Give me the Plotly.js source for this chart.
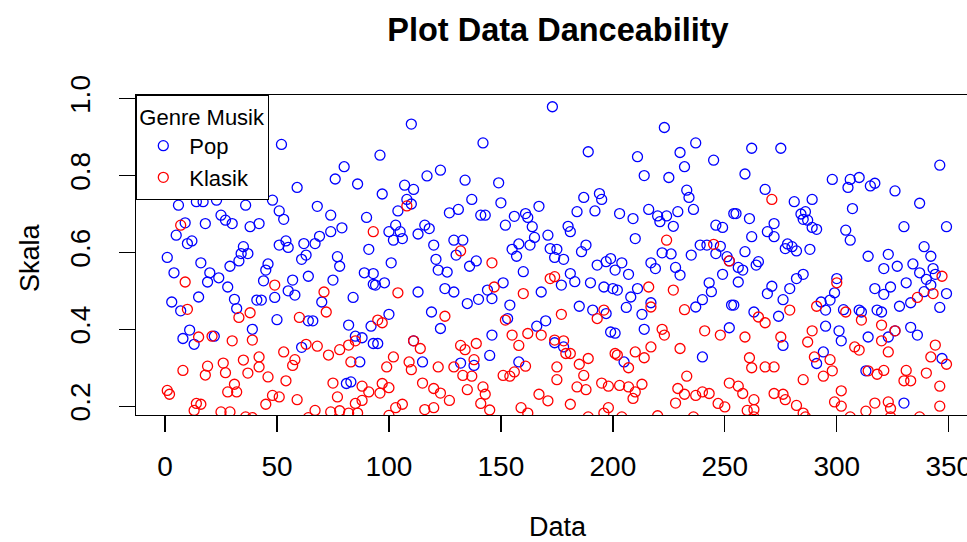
<!DOCTYPE html>
<html>
<head>
<meta charset="utf-8">
<script src="https://cdn.plot.ly/plotly-3.0.1.min.js"></script>
<style>
html,body{margin:0;padding:0;overflow:hidden;background:#fff;}
#chart{width:1000px;height:542px;}
</style>
</head>
<body>
<div id="chart"></div>
<script>
// Pop (blue) : index, danceability
const popX = [1,3,4,5,6,7,8,9,10,11,12,13,14,15,16,17,18,19,20,22,23,24,25,27,28,29,30,31,32,33,34,35,36,37,38,39,
41,42,43,44,45,46,48,49,50,52,51,53,51,54,55,55,59,58,57,62,63,61,61,64,64,66,67,68,69,70,74,74,75,76,77,78,79,80,81,82,83,84,85,86,87,88,89,90,91,92,93,93,93,
110,142,96,123,117,134,107,111,97,137,108,110,104,127,131,141,143,100,103,105,102,106,113,116,118,120,129,133,130,121,122,126,136,139,101,125,129,98,94,113,135,140,144,146,100,119,123,95,146,111,115,132,138,145,
173,189,149,150,187,194,195,167,184,192,156,161,162,152,164,180,181,165,171,158,155,157,163,172,175,174,178,188,186,193,197,199,160,181,183,177,168,190,196,200,151,154,153,170,166,185,191,197,199,158,174,178,
223,237,211,230,245,232,214,225,233,234,203,209,216,220,221,224,229,236,227,246,249,254,210,222,226,235,239,242,246,248,251,252,204,201,217,219,228,230,207,249,211,208,206,202,243,244,240,237,217,213,253,214,201,252,240,205,
262,275,259,298,305,306,268,281,289,255,261,284,286,287,285,307,272,269,272,289,291,304,306,262,278,280,282,277,288,259,265,264,256,258,256,285,282,300,271,269,279,276,299,297,293,295,254,263,274,303,295,301,302,276,294,291,
346,310,315,317,326,337,330,349,314,323,339,342,321,327,334,337,343,344,340,342,331,339,317,321,324,349,333,328,346,310,311,318,320,333,336,326,323,314,347,313,330];
const popY = [.587,.471,.547,.645,.723,.448,.376,.677,.623,.398,.630,.361,.732,.484,.573,.732,.675,.523,.547,.382,.736,.534,.697,.684,.51,.564,.675,.478,.454,.578,.597,.615,.723,.597,.667,.40,
.476,.675,.476,.526,.554,.570,.736,.483,.425,.881,.708,.686,.619,.630,.613,.500,.769,.489,.528,.623,.593,.582,.353,.538,.422,.422,.623,.720,.642,.471,.697,.654,.528,.791,.589,.564,.664,.823,.259,.411,.263,.483,.382,.778,.315,.378,.547,.691,.608,.408,.545,.517,.363,
.934,.885,.853,.814,.799,.788,.775,.764,.752,.738,.738,.726,.708,.703,.712,.697,.697,.654,.671,.654,.632,.636,.648,.671,.662,.619,.632,.632,.593,.582,.554,.549,.564,.578,.573,.506,.497,.521,.515,.497,.467,.478,.502,.48,.439,.445,.402,.363,.385,.37,.315,.312,.306,.332,
.979,.862,.781,.729,.743,.753,.738,.72,.706,.708,.694,.701,.691,.671,.667,.668,.654,.639,.645,.622,.608,.590,.619,.61,.608,.587,.582,.619,.602,.567,.576,.584,.55,.545,.524,.515,.497,.521,.51,.506,.521,.463,.428,.422,.408,.460,.45,.441,.393,.315,.365,.354,
.925,.885,.849,.86,.840,.823,.8,.795,.762,.743,.701,.688,.712,.695,.68,.695,.706,.712,.668,.671,.665,.701,.636,.599,.596,.593,.619,.619,.597,.616,.589,.578,.573,.554,.573,.558,.561,.541,.543,.543,.506,.484,.457,.502,.521,.498,.477,.458,.469,.439,.463,.4,.39,.404,.328,.315,
.871,.871,.804,.79,.769,.79,.764,.732,.738,.701,.688,.7,.706,.684,.686,.714,.675,.654,.641,.665,.66,.658,.632,.641,.622,.615,.604,.61,.608,.602,.576,.567,.561,.554,.523,.543,.532,.532,.512,.493,.506,.477,.495,.476,.471,.45,.463,.445,.434,.451,.408,.396,.37,.358,.341,.311,
.827,.795,.773,.78,.76,.728,.667,.667,.590,.595,.615,.59,.558,.564,.57,.547,.558,.543,.53,.515,.521,.498,.506,.491,.51,.493,.469,.46,.457,.45,.445,.45,.445,.405,.385,.396,.38,.38,.324,.292,.208];

// Klasik (red) : index, danceability
const klasikX = [1,2,7,8,9,10,13,14,15,16,18,19,21,25,26,27,28,29,30,31,32,33,35,38,37,39,39,
49,71,93,60,72,63,68,73,78,82,85,53,58,57,42,42,83,46,54,75,88,91,48,51,45,59,77,85,88,67,74,78,82,86,64,
108,132,146,147,104,125,95,97,111,114,132,134,139,102,99,109,110,122,129,133,137,138,115,120,123,127,97,100,96,135,142,143,141,106,103,100,116,120,145,
172,174,160,177,196,193,152,155,162,158,168,174,178,179,181,185,189,187,175,175,161,151,154,156,201,195,198,184,188,167,171,181,159,162,198,196,
224,245,252,216,227,217,232,222,223,241,248,217,230,210,214,207,202,233,213,203,207,210,209,229,232,237,240,243,228,247,250,252,220,236,
271,300,279,291,304,265,268,259,275,289,287,261,262,268,272,290,297,294,298,285,256,258,263,272,276,277,282,285,302,299,302,263,260,
347,343,336,311,320,326,320,323,308,310,344,342,349,314,318,321,331,330,333,340,346,317,323,324,313,346,337,
36,189,204,263,286,306,324];
const klasikY = [.241,.231,.671,.293,.523,.452,.189,.207,.38,.205,.281,.304,.382,.185,.312,.287,.237,.185,.37,.257,.237,.431,.320,.443,.286,.372,.17,
.515,.497,.654,.431,.445,.361,.356,.333,.347,.359,.37,.341,.321,.306,.328,.302,.315,.276,.266,.260,.252,.237,.228,.224,.205,.217,.224,.207,.215,.189,.185,.188,.182,.182,.17,
.721,.604,.573,.51,.495,.434,.424,.417,.37,.35,.358,.347,.363,.328,.302,.315,.295,.302,.302,.28,.278,.321,.260,.246,.234,.215,.259,.248,.234,.243,.25,.231,.207,.205,.196,.176,.191,.196,.19,
.532,.537,.493,.439,.450,.428,.424,.385,.389,.358,.385,.372,.37,.337,.337,.309,.324,.28,.302,.269,.304,.28,.278,.289,.337,.26,.252,.25,.243,.231,.214,.205,.196,.182,.196,.182,
.632,.621,.578,.51,.502,.458,.451,.4,.385,.396,.385,.354,.35,.341,.326,.3,.333,.278,.257,.254,.25,.237,.22,.246,.231,.228,.237,.233,.208,.207,.198,.260,.175,.172,
.738,.521,.45,.46,.445,.432,.417,.38,.38,.396,.367,.326,.3,.302,.302,.328,.321,.278,.292,.269,.252,.233,.217,.233,.231,.217,.202,.182,.24,.211,.2,.191,.189,
.538,.493,.483,.424,.411,.396,.37,.341,.354,.346,.359,.328,.309,.292,.283,.293,.293,.266,.266,.286,.252,.208,.211,.194,.187,.2,.172,
.172,.172,.172,.172,.172,.172,.172];

const seriesNames = ['Pop', 'Klasik'];
const xTicks = [0, 50, 100, 150, 200, 250, 300, 350];
const yTicks = [0.2, 0.4, 0.6, 0.8, 1.0];
const yTickText = ['0.2', '0.4', '0.6', '0.8', '1.0'];

const FONT = 'Liberation Sans, Arial, sans-serif';

const traces = [
  {x: popX, y: popY, name: seriesNames[0], type: 'scatter', mode: 'markers',
   marker: {symbol: 'circle-open', size: 10, color: '#0000FF', line: {width: 1.3, color: '#0000FF'}}},
  {x: klasikX, y: klasikY, name: seriesNames[1], type: 'scatter', mode: 'markers',
   marker: {symbol: 'circle-open', size: 10, color: '#FF0000', line: {width: 1.3, color: '#FF0000'}}}
];

const layout = {
  width: 1000, height: 542,
  margin: {l: 136, r: 20, t: 95, b: 127, pad: 0},
  paper_bgcolor: '#ffffff', plot_bgcolor: '#ffffff',
  font: {family: FONT, color: '#000', size: 28},
  title: {text: '<b>Plot Data Danceability</b>', font: {family: FONT, size: 32.5, color: '#000'},
          x: 0.5, xref: 'paper', xanchor: 'center', y: 1 - 30/542, yref: 'container', yanchor: 'middle'},
  showlegend: true,
  legend: {x: 0, y: 1, xanchor: 'left', yanchor: 'top', bgcolor: '#ffffff', bordercolor: '#000', borderwidth: 1.3,
           font: {family: FONT, size: 22, color: '#000'},
           title: {text: 'Genre Musik', font: {family: FONT, size: 22, color: '#000'}},
           itemwidth: 42, tracegroupgap: 0},
  xaxis: {range: [-12.96, 363.96], tickvals: xTicks, ticktext: xTicks.map(String), showgrid: false, zeroline: false,
          showline: true, mirror: true, linecolor: '#000', linewidth: 1.3, ticks: 'outside', ticklen: 16, tickwidth: 1.3, tickcolor: '#000',
          tickfont: {family: FONT, size: 28, color: '#000'}, ticklabelstandoff: 10},
  yaxis: {range: [0.177, 1.0096], tickvals: yTicks, ticktext: yTickText, showgrid: false, zeroline: false,
          showline: true, mirror: true, linecolor: '#000', linewidth: 1.3, ticks: 'outside', ticklen: 16, tickwidth: 1.3, tickcolor: '#000',
          tickangle: -90, tickfont: {family: FONT, size: 28, color: '#000'}, ticklabelstandoff: 18},
  annotations: [
    {text: 'Data', xref: 'paper', yref: 'paper', x: 0.5, y: (415-527)/320, xanchor: 'center', yanchor: 'middle', showarrow: false,
     font: {family: FONT, size: 27, color: '#000'}},
    {text: 'Skala', xref: 'paper', yref: 'paper', x: (30-136)/844, y: (415-258)/320, xanchor: 'center', yanchor: 'middle', showarrow: false,
     textangle: -90, font: {family: FONT, size: 27, color: '#000'}}
  ]
};

Plotly.newPlot('chart', traces, layout, {displayModeBar: false, staticPlot: true});
</script>
</body>
</html>
